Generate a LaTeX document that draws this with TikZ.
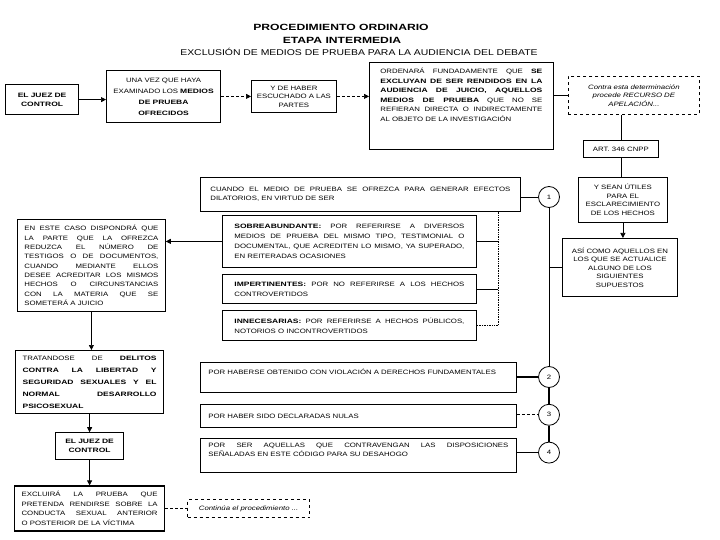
\documentclass[tikz,border=0pt]{standalone}
\usepackage{fontspec}
\setmainfont{Liberation Sans}[FakeStretch=1.24, BoldFeatures={FakeStretch=1.35}]
\usetikzlibrary{arrows.meta,positioning}

\begin{document}
\begin{tikzpicture}[x=1pt, y=-1pt, font=\fontsize{6.3}{8.5}\selectfont,
  caja/.style={draw, line width=0.8pt, inner sep=3pt, anchor=north west},
  gruesa/.style={caja, line width=1.2pt},
  punteada/.style={caja, dashed, line width=0.8pt},
  num/.style={draw, circle, line width=0.8pt, minimum size=21pt, inner sep=0pt},
  flecha/.style={-{Triangle[length=5pt,width=5pt]}, line width=0.7pt}]
  \useasboundingbox (0,0) rectangle (720,540);

  % Titulos
  \node[font=\fontsize{9}{10}\selectfont\bfseries] (tit1) at (341,27) {PROCEDIMIENTO ORDINARIO};
  \node[font=\fontsize{9}{10}\selectfont\bfseries] (tit2) at (342,40) {ETAPA INTERMEDIA};
  \node[font=\fontsize{8.4}{10}\selectfont] (tit3) at (359,52) {EXCLUSIÓN DE MEDIOS DE PRUEBA PARA LA AUDIENCIA DEL DEBATE};

  % Fila superior
  \node[gruesa, font=\fontsize{6.3}{9}\selectfont\bfseries, text width=60pt, align=center,
        minimum width=73pt, minimum height=30pt] (juez) at (5,84) {EL JUEZ DE\\CONTROL};
  \node[gruesa, font=\fontsize{6.3}{11}\selectfont, text width=108pt, align=center,
        minimum width=114pt, minimum height=52pt] (examen) at (106,70)
        {UNA VEZ QUE HAYA\\EXAMINADO LOS \textbf{MEDIOS}\\\textbf{DE PRUEBA}\\\textbf{OFRECIDOS}};
  \node[caja, text width=78pt, align=center, minimum width=85pt, minimum height=32pt] (partes) at (251,80)
        {Y DE HABER\\ESCUCHADO A LAS\\PARTES};
  \node[caja, font=\fontsize{6.3}{9.5}\selectfont, text width=162pt, inner xsep=11pt, inner ysep=6pt,
        align=justify, text depth=70pt] (ordena) at (369,62)
        {ORDENARÁ FUNDADAMENTE QUE \textbf{SE}\linebreak
         \textbf{EXCLUYAN DE SER RENDIDOS EN LA}\linebreak
         \textbf{AUDIENCIA DE JUICIO, AQUELLOS}\linebreak
         \textbf{MEDIOS DE PRUEBA} QUE NO SE\linebreak
         REFIERAN DIRECTA O INDIRECTAMENTE\linebreak
         AL OBJETO DE LA INVESTIGACIÓN};
  \node[punteada, font=\fontsize{6.3}{8.5}\selectfont\itshape, text width=118pt, align=center,
        minimum width=131pt, minimum height=38pt] (recurso) at (568,76)
        {Contra esta determinación\\procede RECURSO DE\\APELACIÓN...};

  % Columna derecha
  \node[caja, minimum width=75pt, minimum height=17pt, inner sep=2pt] (art) at (583,140) {ART. 346 CNPP};
  \node[caja, text width=82pt, align=center, minimum width=89pt, minimum height=45pt] (utiles) at (578,177)
        {Y SEAN ÚTILES\\PARA EL\\ESCLARECIMIENTO\\DE LOS HECHOS};
  \node[caja, text width=108pt, align=center, minimum width=115pt, minimum height=58pt] (asi) at (562,238)
        {ASÍ COMO AQUELLOS EN\\LOS QUE SE ACTUALICE\\ALGUNO DE LOS\\SIGUIENTES\\SUPUESTOS};

  % Supuestos numerados
  \node[num] (uno) at (549,197) {1};
  \node[num] (dos) at (549,377) {2};
  \node[num, below=16pt of dos] (tres) {3};
  \node[num, below=16pt of tres] (cuatro) {4};

  \node[caja, text width=300pt, inner xsep=10pt, align=justify, minimum height=34pt] (cuando) at (200,177)
        {CUANDO EL MEDIO DE PRUEBA SE OFREZCA PARA GENERAR EFECTOS\linebreak
         DILATORIOS, EN VIRTUD DE SER};
  \node[caja, font=\fontsize{6.3}{10}\selectfont, text width=230pt, inner xsep=12pt, align=justify,
        minimum height=52pt] (sobre) at (222,215)
        {\textbf{SOBREABUNDANTE:} POR REFERIRSE A DIVERSOS\linebreak
         MEDIOS DE PRUEBA DEL MISMO TIPO, TESTIMONIAL O\linebreak
         DOCUMENTAL, QUE ACREDITEN LO MISMO, YA SUPERADO,\linebreak
         EN REITERADAS OCASIONES};
  \node[caja, font=\fontsize{6.3}{10}\selectfont, text width=230pt, inner xsep=12pt, align=justify,
        minimum height=29pt] (impert) at (222,274)
        {\textbf{IMPERTINENTES:} POR NO REFERIRSE A LOS HECHOS\linebreak CONTROVERTIDOS};
  \node[caja, font=\fontsize{6.3}{10}\selectfont, text width=230pt, inner xsep=12pt, align=justify,
        minimum height=30pt] (innec) at (222,310)
        {\textbf{INNECESARIAS:} POR REFERIRSE A HECHOS PÚBLICOS,\linebreak NOTORIOS O INCONTROVERTIDOS};
  \coordinate (llave) at (498,0);

  \node[caja, text width=300pt, inner xsep=8pt, inner ysep=7pt, align=left, text depth=11pt] (viola) at (200,362)
        {POR HABERSE OBTENIDO CON VIOLACIÓN A DERECHOS FUNDAMENTALES};
  \node[caja, text width=300pt, inner xsep=8pt, align=left, minimum height=23pt] (nulas) at (200,404)
        {POR HABER SIDO DECLARADAS NULAS};
  \node[caja, text width=300pt, inner xsep=8pt, inner ysep=5pt, align=justify, text depth=20pt] (aquel) at (200,438)
        {POR SER AQUELLAS QUE CONTRAVENGAN LAS DISPOSICIONES\linebreak
         SEÑALADAS EN ESTE CÓDIGO PARA SU DESAHOGO};

  % Columna izquierda
  \node[caja, font=\fontsize{6.3}{9.3}\selectfont, text width=134pt, inner xsep=7pt, align=justify,
        minimum height=92pt] (caso) at (17,219)
        {EN ESTE CASO DISPONDRÁ QUE\linebreak
         LA PARTE QUE LA OFREZCA\linebreak
         REDUZCA EL NÚMERO DE\linebreak
         TESTIGOS O DE DOCUMENTOS,\linebreak
         CUANDO MEDIANTE ELLOS\linebreak
         DESEE ACREDITAR LOS MISMOS\linebreak
         HECHOS O CIRCUNSTANCIAS\linebreak
         CON LA MATERIA QUE SE\linebreak
         SOMETERÁ A JUICIO};
  \node[gruesa, font=\fontsize{6.3}{12}\selectfont, text width=134pt, inner xsep=7pt, align=justify,
        minimum height=63pt] (trata) at (15,350)
        {TRATANDOSE DE \textbf{DELITOS}\linebreak
         \textbf{CONTRA LA LIBERTAD Y}\linebreak
         \textbf{SEGURIDAD SEXUALES Y EL}\linebreak
         \textbf{NORMAL DESARROLLO}\linebreak
         \textbf{PSICOSEXUAL}};
  \node[gruesa, anchor=north, font=\fontsize{6.3}{9}\selectfont\bfseries, text width=60pt, align=center,
        minimum width=68pt, minimum height=27pt, below=18pt of trata] (juez2) {EL JUEZ DE\\CONTROL};
  \node[gruesa, anchor=north, font=\fontsize{6.3}{9.5}\selectfont, text width=136pt, inner xsep=7pt,
        align=justify, minimum height=45pt, below=25pt of juez2] (excluye)
        {EXCLUIRÁ LA PRUEBA QUE\linebreak
         PRETENDA RENDIRSE SOBRE LA\linebreak
         CONDUCTA SEXUAL ANTERIOR\linebreak
         O POSTERIOR DE LA VÍCTIMA};
  \node[punteada, anchor=west, font=\fontsize{6.3}{8.5}\selectfont\itshape, minimum width=122pt,
        minimum height=18pt, right=22pt of excluye] (sigue) {Continúa el procedimiento ...};

  % Flechas
  \draw[flecha] (juez.east) -- (juez.east -| examen.west);
  \draw[flecha, densely dashed] (examen.east |- partes) -- (partes.west);
  \draw[flecha, densely dashed] (partes.east) -- (partes.east -| ordena.west);
  \draw[line width=0.7pt] (recurso.west) -- (recurso.west -| ordena.east);
  \draw[line width=0.7pt] (art.north) -- (art.north |- recurso.south);
  \draw[line width=0.7pt] (art.south) -- (art.south |- utiles.north);
  \draw[flecha] (utiles.south) -- (utiles.south |- asi.north);

  % Supuestos
  \draw[line width=0.7pt] (cuando.east |- uno) -- (uno);
  \draw[line width=0.7pt] (uno) -- (dos);
  \draw[line width=0.7pt] (uno |- asi.west) -- (asi.west);
  \draw[line width=1.2pt] (dos) -- (tres) -- (cuatro);
  \draw[line width=1.2pt] (viola.east |- dos) -- (dos);
  \draw[line width=0.7pt, densely dashed] (nulas.east |- tres) -- (tres);
  \draw[line width=1.2pt] (aquel.east |- cuatro) -- (cuatro);

  % Llave de los supuestos dilatorios
  \draw[line width=0.7pt, densely dotted] (llave |- cuando.south) -- (llave |- innec.east);
  \draw[line width=0.7pt] (sobre.east) -- (sobre.east -| llave);
  \draw[line width=0.7pt] (impert.east) -- (impert.east -| llave);
  \draw[line width=0.7pt, densely dotted] (innec.east) -- (innec.east -| llave);
  \draw[flecha] (sobre.west) -- (sobre.west -| caso.east);

  % Columna izquierda
  \draw[flecha] (caso.south) -- (caso.south |- trata.north);
  \draw[flecha] (trata) -- (juez2);
  \draw[flecha] (juez2) -- (excluye);
  \draw[line width=0.7pt, densely dashed] (excluye) -- (sigue);
\end{tikzpicture}
\end{document}
